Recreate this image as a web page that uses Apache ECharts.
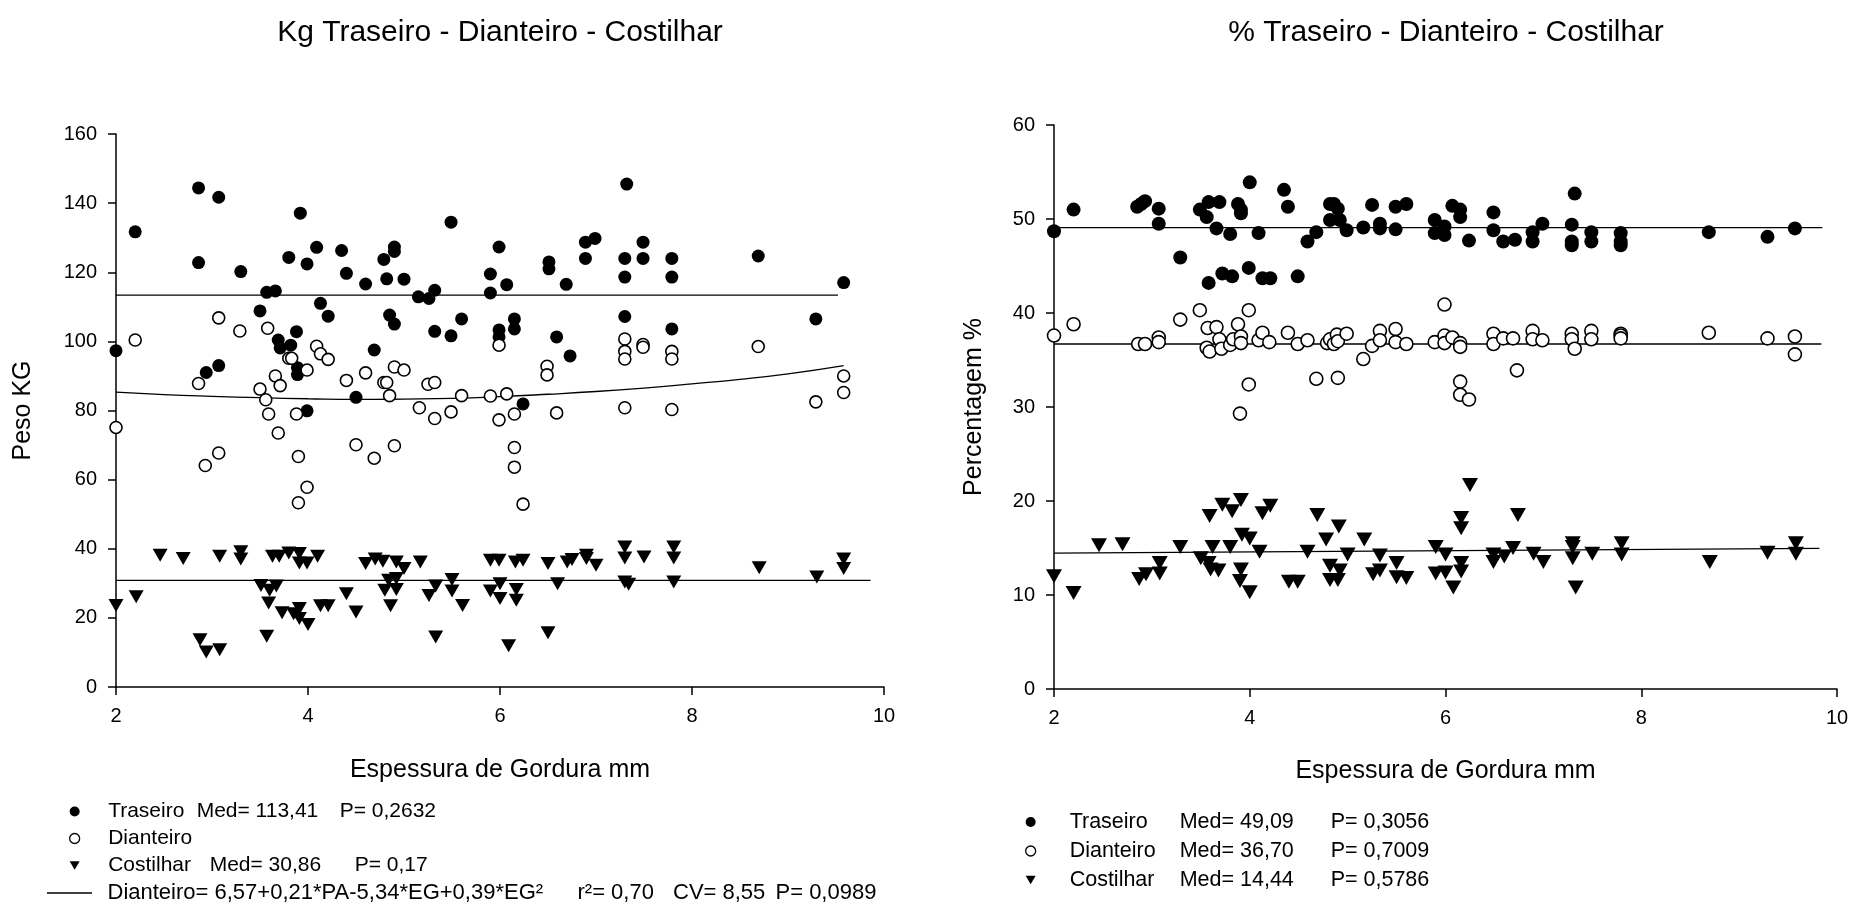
<!DOCTYPE html>
<html>
<head>
<meta charset="utf-8">
<script src="https://cdn.jsdelivr.net/npm/echarts@6/dist/echarts.min.js"></script>
<style>
html, body { margin: 0; padding: 0; background: #fff; }
#chart { width: 1852px; height: 910px; }
</style>
</head>
<body>
<div id="chart"></div>
<script>
// ---------- data: carcass cuts vs fat thickness (EG, mm) ----------
// weights in kg
const kgTraseiro = [[2.0,97.3],[2.2,131.7],[2.86,144.4],[2.86,122.8],[2.94,91.0],[3.07,141.7],[3.07,93.0],[3.30,120.2],[3.50,108.8],[3.57,114.2],[3.66,114.6],[3.69,100.4],[3.71,98.1],[3.82,98.9],[3.80,124.3],[3.88,102.8],[3.89,92.4],[3.89,90.4],[3.92,137.1],[3.99,122.4],[3.99,79.9],[4.09,127.2],[4.13,111.0],[4.21,107.3],[4.35,126.3],[4.40,119.7],[4.50,83.8],[4.60,116.6],[4.69,97.5],[4.79,123.7],[4.82,118.1],[4.90,127.3],[4.90,126.0],[4.85,107.6],[4.90,105.0],[5.0,118.0],[5.15,112.9],[5.26,112.4],[5.32,114.8],[5.32,102.9],[5.49,134.5],[5.49,101.6],[5.60,106.5],[5.90,119.5],[5.90,114.0],[5.99,127.3],[5.99,103.3],[5.99,101.3],[6.07,116.4],[6.15,106.5],[6.15,103.6],[6.24,81.9],[6.51,123.0],[6.51,121.0],[6.59,101.3],[6.69,116.5],[6.73,95.8],[6.89,128.7],[6.99,129.8],[6.89,124.0],[7.32,145.5],[7.30,124.0],[7.30,118.6],[7.30,107.2],[7.49,128.7],[7.49,124.0],[7.79,124.0],[7.79,118.6],[7.79,103.6],[8.69,124.7],[9.29,106.5],[9.58,117.0]];
const kgDianteiro = [[2.0,75.1],[2.2,100.4],[2.86,87.8],[2.93,64.1],[3.07,106.8],[3.07,67.7],[3.29,103.0],[3.50,86.2],[3.56,83.1],[3.58,103.8],[3.59,79.0],[3.66,90.0],[3.69,73.5],[3.71,87.2],[3.80,95.1],[3.83,95.1],[3.88,79.0],[3.90,66.7],[3.90,53.3],[3.99,91.7],[3.99,57.8],[4.09,98.6],[4.13,96.4],[4.21,94.8],[4.40,88.7],[4.50,70.1],[4.60,90.9],[4.69,66.2],[4.79,88.1],[4.82,88.1],[4.85,84.3],[4.90,92.6],[4.90,69.8],[5.0,91.7],[5.16,80.8],[5.25,87.6],[5.32,88.1],[5.32,77.7],[5.49,79.6],[5.60,84.3],[5.90,84.2],[5.99,98.9],[5.99,77.3],[6.07,84.8],[6.15,79.0],[6.15,69.3],[6.15,63.6],[6.24,52.9],[6.49,92.8],[6.49,90.3],[6.59,79.3],[7.30,100.7],[7.30,97.1],[7.30,94.9],[7.30,80.8],[7.49,99.1],[7.49,98.3],[7.79,97.1],[7.79,94.9],[7.79,80.3],[8.69,98.5],[9.29,82.5],[9.58,90.0],[9.58,85.2]];
const kgCostilhar = [[2.0,23.6],[2.21,26.1],[2.46,38.1],[2.70,37.2],[2.875,13.7],[2.94,10.1],[3.08,10.8],[3.08,37.8],[3.30,39.1],[3.30,37.0],[3.51,29.4],[3.57,14.7],[3.59,24.3],[3.60,28.0],[3.67,29.2],[3.63,37.8],[3.70,37.8],[3.73,21.5],[3.80,38.8],[3.85,21.2],[3.91,22.7],[3.91,19.8],[3.91,38.6],[3.91,35.9],[3.99,35.9],[4.0,18.1],[4.10,37.8],[4.13,23.5],[4.21,23.5],[4.40,27.0],[4.50,21.7],[4.60,35.7],[4.70,37.0],[4.78,36.4],[4.92,36.2],[5.0,34.3],[4.84,30.9],[4.92,31.4],[4.80,28.0],[4.92,28.2],[4.86,23.5],[5.17,36.2],[5.26,26.5],[5.33,29.2],[5.33,14.5],[5.50,31.1],[5.50,27.8],[5.61,23.6],[5.90,36.7],[5.99,36.7],[6.16,36.2],[6.24,36.7],[6.0,29.9],[5.90,27.8],[6.0,25.6],[6.17,28.2],[6.17,25.1],[6.09,11.9],[6.50,35.7],[6.50,15.7],[6.60,29.9],[6.70,36.2],[6.75,36.9],[6.90,38.1],[6.90,37.2],[7.0,35.2],[7.30,40.5],[7.30,37.3],[7.30,30.4],[7.34,29.7],[7.50,37.6],[7.81,40.5],[7.81,37.3],[7.81,30.4],[8.70,34.5],[9.30,31.8],[9.58,37.0],[9.58,34.3]];
// mean lines and fitted Dianteiro curve (kg)
const kgTraseiroMed = [[2, 113.41], [9.52, 113.41]];
const kgCostilharMed = [[2, 30.86], [9.86, 30.86]];
const kgDianteiroAjuste = [[2,85.3],[2.5,84.6],[3,84.1],[3.5,83.7],[4,83.4],[4.5,83.2],[5,83.3],[5.5,83.5],[6,84.0],[6.5,84.7],[7,85.5],[7.5,86.5],[8,87.7],[8.5,89.0],[9,90.6],[9.58,93.0]];

// proportions in %
const pctTraseiro = [[2.0,48.7],[2.20,51.0],[2.85,51.3],[2.89,51.6],[2.93,51.9],[3.07,51.1],[3.07,49.5],[3.29,45.9],[3.49,51.0],[3.56,50.2],[3.58,51.8],[3.69,51.8],[3.66,49.0],[3.58,43.2],[3.72,44.2],[3.82,43.9],[3.80,48.4],[3.88,51.6],[3.91,51.0],[3.91,50.6],[4.0,53.9],[3.99,44.8],[4.09,48.5],[4.13,43.7],[4.21,43.7],[4.35,53.1],[4.39,51.3],[4.49,43.9],[4.59,47.6],[4.68,48.6],[4.82,51.6],[4.86,51.6],[4.90,51.1],[4.82,49.9],[4.92,49.9],[4.99,48.8],[5.16,49.1],[5.25,51.5],[5.33,49.5],[5.33,49.0],[5.49,51.3],[5.49,48.9],[5.60,51.6],[5.89,49.9],[5.89,48.5],[5.99,49.2],[5.99,48.3],[6.07,51.4],[6.15,51.0],[6.15,50.2],[6.24,47.7],[6.49,50.7],[6.49,48.8],[6.59,47.6],[6.71,47.8],[6.89,48.6],[6.89,47.6],[6.99,49.5],[7.32,52.7],[7.29,49.4],[7.29,47.6],[7.29,47.2],[7.49,48.6],[7.49,47.6],[7.79,48.5],[7.79,47.6],[7.79,47.2],[8.69,48.6],[9.29,48.1],[9.57,49.0]];
const pctDianteiro = [[2.0,37.6],[2.2,38.8],[2.86,36.7],[2.93,36.7],[3.07,37.4],[3.07,36.9],[3.29,39.3],[3.49,40.3],[3.57,38.4],[3.56,36.3],[3.59,35.9],[3.66,38.5],[3.69,37.2],[3.71,36.2],[3.80,36.6],[3.83,37.2],[3.88,38.8],[3.91,37.5],[3.91,36.8],[3.99,40.3],[3.99,32.4],[3.90,29.3],[4.09,37.1],[4.13,37.9],[4.20,36.9],[4.39,37.9],[4.49,36.7],[4.59,37.1],[4.68,33.0],[4.79,36.8],[4.82,37.2],[4.86,36.7],[4.89,37.7],[4.90,37.0],[4.90,33.1],[4.99,37.8],[5.16,35.1],[5.25,36.5],[5.33,38.1],[5.33,37.1],[5.49,38.3],[5.49,36.9],[5.60,36.7],[5.89,36.9],[5.99,40.9],[5.99,37.6],[5.99,36.8],[6.07,37.4],[6.15,36.8],[6.15,36.4],[6.15,32.7],[6.15,31.3],[6.24,30.8],[6.49,37.8],[6.49,36.7],[6.59,37.3],[6.69,37.3],[6.73,33.9],[6.89,38.1],[6.89,37.2],[6.99,37.1],[7.29,37.8],[7.29,37.2],[7.32,36.2],[7.49,38.1],[7.49,37.2],[7.79,37.8],[7.79,37.6],[7.79,37.3],[8.69,37.9],[9.29,37.3],[9.57,37.5],[9.57,35.6]];
const pctCostilhar = [[2.0,12.0],[2.20,10.2],[2.46,15.3],[2.70,15.4],[2.87,11.7],[2.94,12.2],[3.08,13.4],[3.08,12.3],[3.29,15.1],[3.50,13.9],[3.59,18.4],[3.60,12.7],[3.68,12.6],[3.58,13.4],[3.62,15.1],[3.72,19.6],[3.82,18.9],[3.80,15.1],[3.91,20.1],[3.91,12.7],[3.90,11.5],[3.92,16.4],[4.0,16.0],[4.0,10.3],[4.10,14.6],[4.13,18.7],[4.21,19.5],[4.40,11.4],[4.49,11.4],[4.59,14.6],[4.69,18.5],[4.78,15.9],[4.82,13.1],[4.92,12.6],[4.82,11.6],[4.90,11.6],[4.91,17.3],[5.0,14.3],[5.17,15.9],[5.33,14.2],[5.26,12.2],[5.33,12.6],[5.50,13.4],[5.50,11.9],[5.60,11.8],[5.90,15.1],[5.90,12.3],[6.0,14.3],[6.0,12.4],[6.08,10.8],[6.16,18.2],[6.16,17.1],[6.16,13.4],[6.16,12.5],[6.25,21.7],[6.49,14.3],[6.49,13.5],[6.60,14.1],[6.69,15.0],[6.74,18.5],[6.90,14.4],[7.0,13.5],[7.30,15.5],[7.30,15.1],[7.30,13.9],[7.33,10.8],[7.50,14.4],[7.80,15.5],[7.80,14.3],[8.70,13.5],[9.29,14.5],[9.58,15.5],[9.58,14.4]];
const pctTraseiroMed = [[2, 49.09], [9.85, 49.09]];
const pctDianteiroMed = [[2, 36.70], [9.84, 36.70]];
const pctCostilharReta = [[2, 14.45], [9.82, 14.95]];

// axis ticks
const xTicks = { min: 2, max: 10, interval: 2 };
const yTicksKg = { min: 0, max: 160, interval: 20 };
const yTicksPct = { min: 0, max: 60, interval: 10 };

// text
const titles = ['Kg Traseiro - Dianteiro - Costilhar', '% Traseiro - Dianteiro - Costilhar'];
const xName = 'Espessura de Gordura mm';
const yNames = ['Peso KG', 'Percentagem %'];
const legendKg = [
  ['Traseiro', 'Med= 113,41', 'P= 0,2632'],
  ['Dianteiro'],
  ['Costilhar', 'Med= 30,86', 'P= 0,17'],
  ['Dianteiro= 6,57+0,21*PA-5,34*EG+0,39*EG²', 'r²= 0,70', 'CV= 8,55', 'P= 0,0989']
];
const legendPct = [
  ['Traseiro', 'Med= 49,09', 'P= 0,3056'],
  ['Dianteiro', 'Med= 36,70', 'P= 0,7009'],
  ['Costilhar', 'Med= 14,44', 'P= 0,5786']
];

// ---------- styling ----------
const FONT = "'Liberation Sans', Arial, sans-serif";
const TRI = 'path://M0,0L20,0L10,17Z';
const rt = (w, fs) => {
  const s = { fontSize: fs || 21, fontFamily: FONT, color: '#000', lineHeight: 22 };
  if (w) s.width = w;
  return s;
};

function axisX(gridIndex, gap) {
  return {
    type: 'value', gridIndex, min: xTicks.min, max: xTicks.max, interval: xTicks.interval,
    name: xName, nameLocation: 'middle', nameGap: gap,
    nameTextStyle: { fontSize: 25, fontFamily: FONT, color: '#000' },
    axisLine: { lineStyle: { color: '#000', width: 1.5 } },
    axisTick: { length: 8, lineStyle: { color: '#000', width: 1.5 } },
    axisLabel: { fontSize: 20, fontFamily: FONT, color: '#000', margin: 19 },
    splitLine: { show: false }
  };
}
function axisY(gridIndex, t, name, gap) {
  return {
    type: 'value', gridIndex, min: t.min, max: t.max, interval: t.interval,
    name, nameLocation: 'middle', nameGap: gap, nameRotate: 90,
    nameTextStyle: { fontSize: 25, fontFamily: FONT, color: '#000' },
    axisLine: { show: true, lineStyle: { color: '#000', width: 1.5 } },
    axisTick: { show: true, length: 8, lineStyle: { color: '#000', width: 1.5 } },
    axisLabel: { fontSize: 20, fontFamily: FONT, color: '#000', margin: 19 },
    splitLine: { show: false }
  };
}
function dots(name, data, idx, kind, size) {
  const s = {
    type: 'scatter', name, data, xAxisIndex: idx, yAxisIndex: idx, clip: false, z: 3,
    symbol: 'circle', symbolSize: size,
    itemStyle: { color: '#000', opacity: 1 }
  };
  if (kind === 'open') s.itemStyle = { color: '#fff', borderColor: '#000', borderWidth: 1.6, opacity: 1 };
  if (kind === 'tri') s.symbol = TRI;
  return s;
}
function line(name, data, idx, smooth) {
  return {
    type: 'line', name, data, xAxisIndex: idx, yAxisIndex: idx, smooth: !!smooth,
    symbol: 'none', z: 2, lineStyle: { color: '#000', width: 1.3 }
  };
}

// legend columns (widths in px)
const richKg = {
  s: rt(23.5), s2: rt(10.5),
  a1: rt(88.5), b1: rt(143), a3: rt(101.5), b3: rt(145),
  a4: rt(470, 22), b4: rt(95.5, 22), c4: rt(102.5, 22), c: rt(0), c5: rt(0, 22)
};
const richPct = { s: rt(29, 21.5), a: rt(110, 21.5), b: rt(151, 21.5), c: rt(0, 21.5) };

const kgText = {
  'Traseiro kg': `{s| }{a1|${legendKg[0][0]}}{b1|${legendKg[0][1]}}{c|${legendKg[0][2]}}`,
  'Dianteiro kg': `{s| }{c|${legendKg[1][0]}}`,
  'Costilhar kg': `{s| }{a3|${legendKg[2][0]}}{b3|${legendKg[2][1]}}{c|${legendKg[2][2]}}`,
  'Dianteiro ajuste': `{s2| }{a4|${legendKg[3][0]}}{b4|${legendKg[3][1]}}{c4|${legendKg[3][2]}}{c5|${legendKg[3][3]}}`
};
const pctText = {};
['Traseiro %', 'Dianteiro %', 'Costilhar %'].forEach((n, i) => {
  pctText[n] = `{s| }{a|${legendPct[i][0]}}{b|${legendPct[i][1]}}{c|${legendPct[i][2]}}`;
});

const filled = { color: '#000' };
const open = { color: '#fff', borderColor: '#000', borderWidth: 1.3 };

const chart = echarts.init(document.getElementById('chart'), null, { renderer: 'canvas' });
chart.setOption({
  animation: false,
  backgroundColor: '#fff',
  textStyle: { fontFamily: FONT, color: '#000' },
  graphic: [
    { type: 'text', x: 500, y: 33, style: { text: titles[0], fontSize: 30, fontFamily: FONT, fill: '#000', textAlign: 'center', textVerticalAlign: 'middle' } },
    { type: 'text', x: 1446, y: 33, style: { text: titles[1], fontSize: 30, fontFamily: FONT, fill: '#000', textAlign: 'center', textVerticalAlign: 'middle' } }
  ],
  grid: [
    { left: 116, top: 134, width: 768, height: 553 },
    { left: 1054, top: 125, width: 783, height: 564 }
  ],
  xAxis: [axisX(0, 71), axisX(1, 70)],
  yAxis: [axisY(0, yTicksKg, yNames[0], 80), axisY(1, yTicksPct, yNames[1], 67)],
  legend: [
    {
      orient: 'vertical', left: 69, top: 801, padding: 0, itemWidth: 10, itemHeight: 10, itemGap: 6,
      selectedMode: false,
      data: [
        { name: 'Traseiro kg', icon: 'circle', itemStyle: filled },
        { name: 'Dianteiro kg', icon: 'circle', itemStyle: open },
        { name: 'Costilhar kg', icon: TRI, itemStyle: filled }
      ],
      formatter: n => kgText[n],
      textStyle: { fontSize: 21, fontFamily: FONT, color: '#000', rich: richKg }
    },
    {
      orient: 'vertical', left: 47, top: 882, padding: 0, itemWidth: 45, itemHeight: 1.4,
      selectedMode: false,
      data: [{ name: 'Dianteiro ajuste', icon: 'rect', itemStyle: { color: '#000' } }],
      formatter: n => kgText[n],
      textStyle: { fontSize: 22, fontFamily: FONT, color: '#000', rich: richKg }
    },
    {
      orient: 'vertical', left: 1025, top: 811, padding: 0, itemWidth: 10, itemHeight: 10, itemGap: 7,
      selectedMode: false,
      data: [
        { name: 'Traseiro %', icon: 'circle', itemStyle: filled },
        { name: 'Dianteiro %', icon: 'circle', itemStyle: open },
        { name: 'Costilhar %', icon: TRI, itemStyle: filled }
      ],
      formatter: n => pctText[n],
      textStyle: { fontSize: 21.5, fontFamily: FONT, color: '#000', rich: richPct }
    }
  ],
  series: [
    line('Média Traseiro kg', kgTraseiroMed, 0),
    line('Média Costilhar kg', kgCostilharMed, 0),
    line('Dianteiro ajuste', kgDianteiroAjuste, 0, true),
    dots('Traseiro kg', kgTraseiro, 0, 'filled', 13),
    dots('Dianteiro kg', kgDianteiro, 0, 'open', 12),
    dots('Costilhar kg', kgCostilhar, 0, 'tri', [15, 13]),

    line('Média Traseiro %', pctTraseiroMed, 1),
    line('Média Dianteiro %', pctDianteiroMed, 1),
    line('Reta Costilhar %', pctCostilharReta, 1),
    dots('Traseiro %', pctTraseiro, 1, 'filled', 14),
    dots('Dianteiro %', pctDianteiro, 1, 'open', 13),
    dots('Costilhar %', pctCostilhar, 1, 'tri', [16, 14])
  ]
});
</script>
</body>
</html>
